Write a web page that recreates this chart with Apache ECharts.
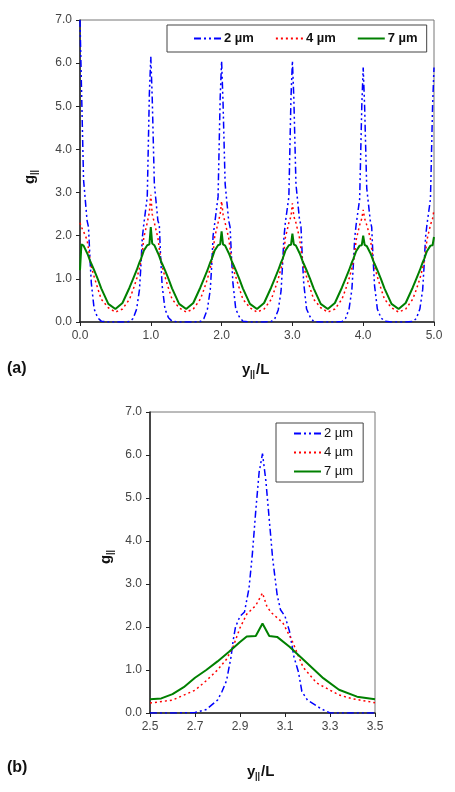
<!DOCTYPE html>
<html><head><meta charset="utf-8">
<script src="https://cdn.jsdelivr.net/npm/echarts@6/dist/echarts.min.js"></script>
<style>html,body{margin:0;padding:0;background:#fff}#c{width:455px;height:792px}</style>
</head><body><div id="c"></div>
<script>
// ---- Panel (a) data ----
const seriesNames = ['2 µm', '4 µm', '7 µm'];
const topX = [
0,0.02,0.05,0.1,0.12,0.14,0.16,0.2,0.25,0.3,0.4,0.5,0.6,0.7,0.75,0.8,0.84,0.86,0.88,0.9,0.95,0.98,
1,1.02,1.05,1.1,1.12,1.14,1.16,1.2,1.25,1.3,1.4,1.5,1.6,1.7,1.75,1.8,1.84,1.86,1.88,1.9,1.95,1.98,
2,2.02,2.05,2.1,2.12,2.14,2.16,2.2,2.25,2.3,2.4,2.5,2.6,2.7,2.75,2.8,2.84,2.86,2.88,2.9,2.95,2.98,
3,3.02,3.05,3.1,3.12,3.14,3.16,3.2,3.25,3.3,3.4,3.5,3.6,3.7,3.75,3.8,3.84,3.86,3.88,3.9,3.95,3.98,
4,4.02,4.05,4.1,4.12,4.14,4.16,4.2,4.25,4.3,4.4,4.5,4.6,4.7,4.75,4.8,4.84,4.86,4.88,4.9,4.95,4.98,
5];
const topBlue = [
7.0,5.5,3.3,2.35,2.2,1.5,0.9,0.3,0.1,0.02,0,0,0,0.01,0.08,0.3,0.75,1.3,1.95,2.25,2.9,5.3,
6.15,5.2,3.2,2.35,2.25,1.45,0.85,0.3,0.1,0.02,0,0,0,0.01,0.08,0.3,0.75,1.3,2.0,2.25,2.9,5.2,
6.05,5.1,3.2,2.35,2.2,1.5,0.9,0.3,0.12,0.02,0,0,0,0.01,0.07,0.28,0.72,1.3,1.95,2.3,2.9,5.2,
6.05,5.2,3.2,2.38,2.25,1.5,0.9,0.3,0.12,0.01,0,0,0,0.01,0.08,0.3,0.75,1.3,1.95,2.25,2.85,5.0,
5.9,5.0,3.1,2.35,2.2,1.45,0.85,0.3,0.1,0.02,0,0,0,0.01,0.08,0.3,0.75,1.3,1.95,2.25,2.85,5.0,
5.9];
const topRed = [
2.3,2.2,2.1,1.9,1.7,1.45,1.28,1.05,0.78,0.53,0.33,0.23,0.3,0.53,0.75,1.0,1.25,1.4,1.6,1.95,2.3,2.55,
2.95,2.5,2.3,1.95,1.7,1.45,1.28,1.05,0.78,0.53,0.33,0.23,0.3,0.53,0.75,1.0,1.25,1.4,1.6,1.95,2.3,2.5,
2.8,2.5,2.3,1.95,1.7,1.45,1.25,1.05,0.78,0.53,0.33,0.23,0.3,0.52,0.75,1.0,1.25,1.4,1.6,1.95,2.3,2.45,
2.75,2.45,2.3,1.95,1.7,1.45,1.28,1.05,0.78,0.53,0.33,0.23,0.3,0.53,0.75,1.0,1.25,1.4,1.6,1.9,2.25,2.4,
2.6,2.4,2.25,1.95,1.7,1.45,1.28,1.05,0.78,0.53,0.33,0.23,0.3,0.53,0.75,1.0,1.25,1.4,1.6,1.9,2.25,2.4,
2.6];
const topGreen = [
1.2,1.8,1.77,1.6,1.52,1.43,1.35,1.2,1.0,0.78,0.42,0.3,0.44,0.8,1.0,1.2,1.38,1.46,1.55,1.65,1.78,1.8,
2.2,1.82,1.78,1.6,1.52,1.43,1.35,1.2,1.0,0.78,0.42,0.3,0.44,0.8,1.0,1.2,1.38,1.46,1.55,1.65,1.78,1.8,
2.1,1.8,1.77,1.6,1.52,1.43,1.35,1.2,1.0,0.78,0.42,0.3,0.44,0.8,1.0,1.2,1.38,1.46,1.55,1.65,1.78,1.79,
2.05,1.8,1.77,1.6,1.52,1.43,1.35,1.2,1.0,0.78,0.42,0.3,0.44,0.8,1.0,1.2,1.38,1.46,1.55,1.64,1.77,1.78,
2.0,1.79,1.76,1.6,1.52,1.43,1.35,1.2,1.0,0.78,0.42,0.3,0.44,0.8,1.0,1.2,1.38,1.46,1.55,1.64,1.77,1.78,
1.97];
const topXTicks = [0, 5, 1];
const yTicks = [0, 7, 1];

// ---- Panel (b) data ----
const botBlueX = [2.5,2.6,2.7,2.75,2.8,2.82,2.84,2.86,2.87,2.88,2.9,2.92,2.94,2.955,2.97,2.985,3.0,3.015,3.03,3.045,3.065,3.08,3.1,3.12,3.14,3.16,3.175,3.2,3.23,3.26,3.3,3.4,3.5];
const botBlue  = [0,0,0.01,0.08,0.3,0.5,0.75,1.3,1.7,2.0,2.25,2.35,2.9,3.7,4.7,5.6,6.03,5.4,4.5,3.6,2.75,2.4,2.25,1.9,1.3,0.95,0.5,0.3,0.2,0.1,0,0,0];
const botRedX = [2.5,2.6,2.7,2.75,2.8,2.84,2.87,2.9,2.93,2.97,3.0,3.02,3.04,3.09,3.13,3.18,3.24,3.34,3.4,3.5];
const botRed  = [0.23,0.3,0.53,0.75,1.0,1.25,1.55,1.98,2.3,2.5,2.79,2.47,2.33,2.1,1.7,1.07,0.7,0.42,0.33,0.24];
const botGreenX = [2.5,2.55,2.6,2.65,2.7,2.75,2.8,2.85,2.9,2.93,2.97,3.0,3.03,3.065,3.12,3.2,3.27,3.34,3.42,3.5];
const botGreen  = [0.32,0.34,0.44,0.6,0.82,1.0,1.2,1.42,1.65,1.78,1.79,2.08,1.79,1.77,1.54,1.15,0.81,0.54,0.38,0.32];
const botXTicks = [2.5, 3.5, 0.2];

const zip = (xs, ys) => xs.map((x, i) => [x, ys[i]]);
const colors = ['#0000ff', '#ff0000', '#008000'];
const lineTypes = [[7,3,2,3,2,3], [2,3], 'solid'];
const widths = [1.5, 1.5, 2];

const font = 'Liberation Sans, Arial, sans-serif';
function axisCommon(){
  return {
    axisLine: {show:true, onZero:false, lineStyle:{color:'#222', width:1.5}},
    axisTick: {show:true, inside:false, length:4, lineStyle:{color:'#222', width:1}},
    axisLabel: {color:'#444', fontSize:12, fontFamily:font, formatter: v => Number(v).toFixed(1)},
    splitLine: {show:false}
  };
}
function mkSeries(i, data, ax){
  return {
    name: seriesNames[i], type:'line', data, xAxisIndex:ax, yAxisIndex:ax,
    symbol:'none', smooth:false, animation:false, clip:true,
    lineStyle:{color:colors[i], width:widths[i], type:lineTypes[i]},
    itemStyle:{color:colors[i]}
  };
}

const chart = echarts.init(document.getElementById('c'), null, {renderer:'canvas'});
const titleBold = {fontFamily:font, fontWeight:'bold', fill:'#111'};
function xTitle(x, y){
  return {type:'group', x, y, children:[
    {type:'text', x:0, y:0, style:Object.assign({text:'y', fontSize:15, verticalAlign:'middle'}, titleBold)},
    {type:'text', x:8, y:5, style:Object.assign({text:'||', fontSize:9, verticalAlign:'middle'}, titleBold)},
    {type:'text', x:14, y:0, style:Object.assign({text:'/L', fontSize:15, verticalAlign:'middle'}, titleBold)}
  ]};
}
function yTitle(x, y){
  return {type:'group', x, y, rotation:Math.PI/2, children:[
    {type:'text', x:0, y:0, style:Object.assign({text:'g', fontSize:15, verticalAlign:'middle'}, titleBold)},
    {type:'text', x:9, y:5, style:Object.assign({text:'||', fontSize:9, verticalAlign:'middle'}, titleBold)}
  ]};
}
const hiddenSymbol = {opacity:0, color:'transparent', borderWidth:0};

chart.setOption({
  animation:false,
  backgroundColor:'#fff',
  textStyle:{fontFamily:font},
  grid:[
    {left:80, right:21, top:20, bottom:470, show:true, borderColor:'#777', borderWidth:1, backgroundColor:'transparent'},
    {left:150, right:80, top:412, bottom:79, show:true, borderColor:'#777', borderWidth:1, backgroundColor:'transparent'}
  ],
  xAxis:[
    Object.assign(axisCommon(), {type:'value', gridIndex:0, min:topXTicks[0], max:topXTicks[1], interval:topXTicks[2]}),
    Object.assign(axisCommon(), {type:'value', gridIndex:1, min:botXTicks[0], max:botXTicks[1], interval:botXTicks[2]})
  ],
  yAxis:[
    Object.assign(axisCommon(), {type:'value', gridIndex:0, min:yTicks[0], max:yTicks[1], interval:yTicks[2]}),
    Object.assign(axisCommon(), {type:'value', gridIndex:1, min:yTicks[0], max:yTicks[1], interval:yTicks[2]})
  ],
  legend:[
    {data:seriesNames, orient:'horizontal', left:167, top:25, itemWidth:27, itemHeight:10, itemGap:21,
     padding:[7,9,7,26], backgroundColor:'#fff', borderColor:'#444', borderWidth:1, selectedMode:false,
     itemStyle:hiddenSymbol,
     textStyle:{fontFamily:font, fontWeight:'bold', fontSize:13, color:'#111', padding:[0,0,0,-2]}},
    {data:seriesNames, orient:'vertical', left:276, top:423, itemWidth:27, itemHeight:10, itemGap:6,
     padding:[4,10,4,17], backgroundColor:'#fff', borderColor:'#444', borderWidth:1, selectedMode:false,
     itemStyle:hiddenSymbol,
     textStyle:{fontFamily:font, fontSize:13, color:'#111', padding:[0,0,0,-2]}}
  ],
  series:[
    mkSeries(0, zip(topX, topBlue), 0),
    mkSeries(1, zip(topX, topRed), 0),
    mkSeries(2, zip(topX, topGreen), 0),
    mkSeries(0, zip(botBlueX, botBlue), 1),
    mkSeries(1, zip(botRedX, botRed), 1),
    mkSeries(2, zip(botGreenX, botGreen), 1)
  ],
  graphic:[
    xTitle(242, 370),
    xTitle(247, 772),
    yTitle(30, 184),
    yTitle(106, 564),
    {type:'text', x:7, y:369, style:Object.assign({text:'(a)', fontSize:16, verticalAlign:'middle'}, titleBold)},
    {type:'text', x:7, y:768, style:Object.assign({text:'(b)', fontSize:16, verticalAlign:'middle'}, titleBold)}
  ]
});
</script></body></html>
